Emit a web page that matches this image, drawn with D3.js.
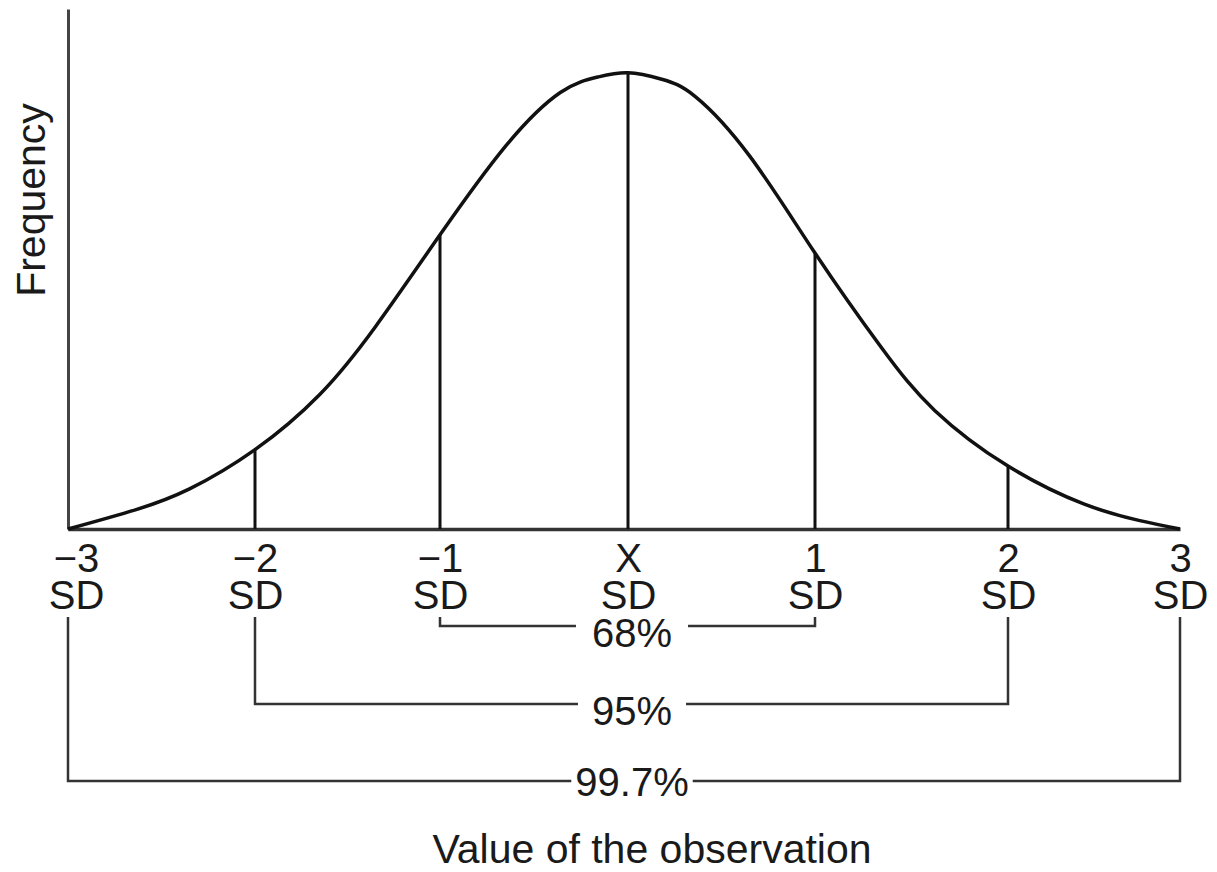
<!DOCTYPE html>
<html>
<head>
<meta charset="utf-8">
<script src="https://cdn.jsdelivr.net/npm/d3@7"></script>
<style>
  html, body { margin: 0; padding: 0; background: #fff; }
  svg { display: block; }
  text { font-family: "Liberation Sans", Arial, Helvetica, sans-serif; fill: #1a1a1a; }
</style>
</head>
<body>
<svg id="chart" width="1217" height="872"></svg>
<script>
// Bell curve: position in standard deviations and relative frequency (peak = 100)
const sdPositions = [-3, -2.64, -2.35, -2, -1.65, -1.35, -1, -0.65, -0.36, -0.16,
                     0, 0.18, 0.36, 0.65, 1, 1.34, 1.62, 2, 2.44, 2.76, 3];
const frequency   = [0, 4.2, 8.8, 17.4, 29.5, 44.3, 64.5, 84, 95.7, 99.1,
                     100, 98.6, 94.8, 81.8, 60.5, 40, 26, 13.8, 5.5, 1.9, 0];

// Axis tick labels (two lines each)
const tickValues = [-3, -2, -1, 0, 1, 2, 3];
const tickTop    = ["\u22123", "\u22122", "\u22121", "X", "1", "2", "3"];
const tickBottom = ["SD", "SD", "SD", "SD", "SD", "SD", "SD"];

// Marker lines drawn up to the curve
const markerValues = [-2, -1, 0, 1, 2];

// Coverage brackets
const bracketLow    = [-1, -2, -3];
const bracketHigh   = [1, 2, 3];
const bracketLabels = ["68%", "95%", "99.7%"];

const xLabel = "Value of the observation";
const yLabel = "Frequency";

const svg = d3.select("#chart");

// Hand-drawn axis: SD marks are not perfectly evenly spaced
const x = d3.scaleLinear()
  .domain(tickValues)
  .range([68, 255, 440, 628, 815, 1008, 1180]);
const y = d3.scaleLinear().domain([0, 114]).range([529, 9]);

const points = sdPositions.map((s, i) => ({ s, f: frequency[i] }));
const freqAt = s => points.find(p => p.s === s).f;

// Y axis (no ticks)
const yAxis = svg.append("g")
  .attr("transform", `translate(${x(-3)},0)`)
  .call(d3.axisLeft(y).tickValues([]).tickSizeOuter(0));
yAxis.select(".domain").attr("stroke", "#444").attr("stroke-width", 3);

// X axis with two-line labels
const xAxis = svg.append("g")
  .attr("transform", `translate(0,${y(0)})`)
  .call(d3.axisBottom(x).tickValues(tickValues).tickSize(0).tickSizeOuter(0).tickFormat(() => ""));
xAxis.select(".domain").attr("stroke", "#333").attr("stroke-width", 3.5);
xAxis.selectAll(".tick text").remove();
xAxis.selectAll(".tick").each(function (d, i) {
  const dx = i === 0 ? 8 : 0;
  const t = d3.select(this).append("text")
    .attr("text-anchor", "middle")
    .attr("font-size", 40);
  t.append("tspan").attr("x", dx).attr("y", 43).text(tickTop[i]);
  t.append("tspan").attr("x", dx).attr("y", 80).text(tickBottom[i]);
});

// Vertical marker lines at the mean and ±1, ±2 SD
svg.append("g").selectAll("line")
  .data(markerValues)
  .join("line")
  .attr("x1", d => x(d)).attr("x2", d => x(d))
  .attr("y1", y(0)).attr("y2", d => y(freqAt(d)))
  .attr("stroke", "#111").attr("stroke-width", 3);

// The curve
const line = d3.line()
  .x(d => x(d.s))
  .y(d => y(d.f))
  .curve(d3.curveNatural);
svg.append("path")
  .datum(points)
  .attr("d", line)
  .attr("fill", "none")
  .attr("stroke", "#111")
  .attr("stroke-width", 3.5);

// Coverage brackets under the axis
const bracketTop = 617;
const rowY = [626, 704, 781];
const labelShift = [21, 21, 15];
const gapPad = [16, 14, 4];
const brackets = svg.append("g");
bracketLabels.forEach((lab, i) => {
  const x0 = x(bracketLow[i]), x1 = x(bracketHigh[i]), yy = rowY[i];
  const cx = x(0) + 4;
  const t = brackets.append("text")
    .attr("x", cx).attr("y", yy + labelShift[i])
    .attr("text-anchor", "middle")
    .attr("font-size", 40)
    .text(lab);
  const w = t.node().getComputedTextLength();
  const gl = cx - w / 2 - gapPad[i], gr = cx + w / 2 + gapPad[i];
  brackets.append("path")
    .attr("d", `M${x0},${bracketTop}V${yy}H${gl}M${gr},${yy}H${x1}V${bracketTop}`)
    .attr("fill", "none")
    .attr("stroke", "#333")
    .attr("stroke-width", 2.5);
});

// Axis titles
svg.append("text")
  .attr("x", 652).attr("y", 863)
  .attr("text-anchor", "middle")
  .attr("font-size", 41)
  .text(xLabel);

svg.append("text")
  .attr("transform", "translate(45,200) rotate(-90)")
  .attr("text-anchor", "middle")
  .attr("font-size", 41)
  .text(yLabel);
</script>
</body>
</html>
